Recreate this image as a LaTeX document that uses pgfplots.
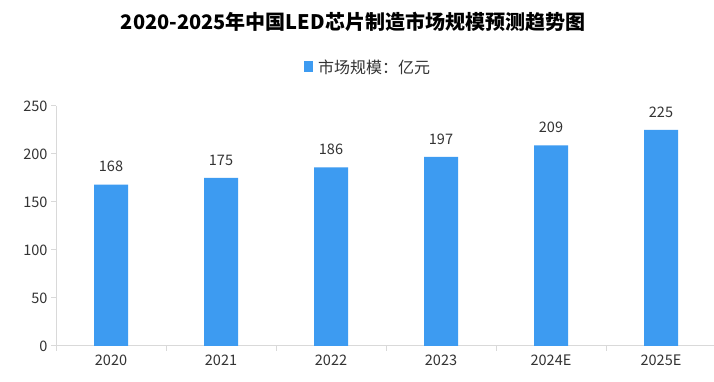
\documentclass[border=0pt]{standalone}
\usepackage{pgfplots}
\pgfplotsset{compat=1.18}
\usepackage{fontspec}
\setmainfont{Noto Sans CJK SC}
\definecolor{barblue}{HTML}{3D9BF1}
\definecolor{axgray}{HTML}{D9D9D9}
\definecolor{txt}{HTML}{333333}
\begin{document}
\begin{tikzpicture}[x=1pt,y=1pt]
\useasboundingbox (0,0) rectangle (714,382);
\fill[white] (0,0) rectangle (714,382);
\node[font=\fontsize{20}{23}\selectfont\bfseries, text=black] at (353,360) {2020-2025年中国LED芯片制造市场规模预测趋势图};
\begin{axis}[
  at={(56pt,36pt)}, anchor=south west, scale only axis,
  width=660pt, height=240pt,
  xmin=-0.5, xmax=5.5, ymin=0, ymax=250,
  ytick={0,50,...,250},
  xtick={0,...,5},
  xticklabels={2020,2021,2022,2023,2024E,2025E},
  minor xtick={-0.5,0.5,...,5.5},
  major x tick style={draw=none},
  axis lines*=left,
  axis line style={axgray, line width=1pt, -},
  tick style={axgray, line width=1pt},
  tick align=outside, major tick length=5pt, minor tick length=5pt,
  ticklabel style={font=\fontsize{14.5}{16}\selectfont, text=txt},
  /pgf/number format/assume math mode=true,
  ybar, bar width=34pt,
  nodes near coords,
  nodes near coords style={font=\fontsize{14.5}{16}\selectfont, text=txt, yshift=9pt},
  legend style={at={(0.473,1.1625)}, anchor=center, draw=none, fill=none,
    font=\fontsize{16}{18}\selectfont, text=txt, legend columns=-1,
    /tikz/every even column/.append style={column sep=0pt}},
  legend image code/.code={\fill[barblue] (0pt,-5pt) rectangle (9pt,6pt);},
]
\addplot[fill=barblue, draw=none] coordinates {(0,168) (1,175) (2,186) (3,197) (4,209) (5,225)};
\addlegendentry{\hspace{3pt}市场规模：亿元}
\end{axis}
\end{tikzpicture}
\end{document}
